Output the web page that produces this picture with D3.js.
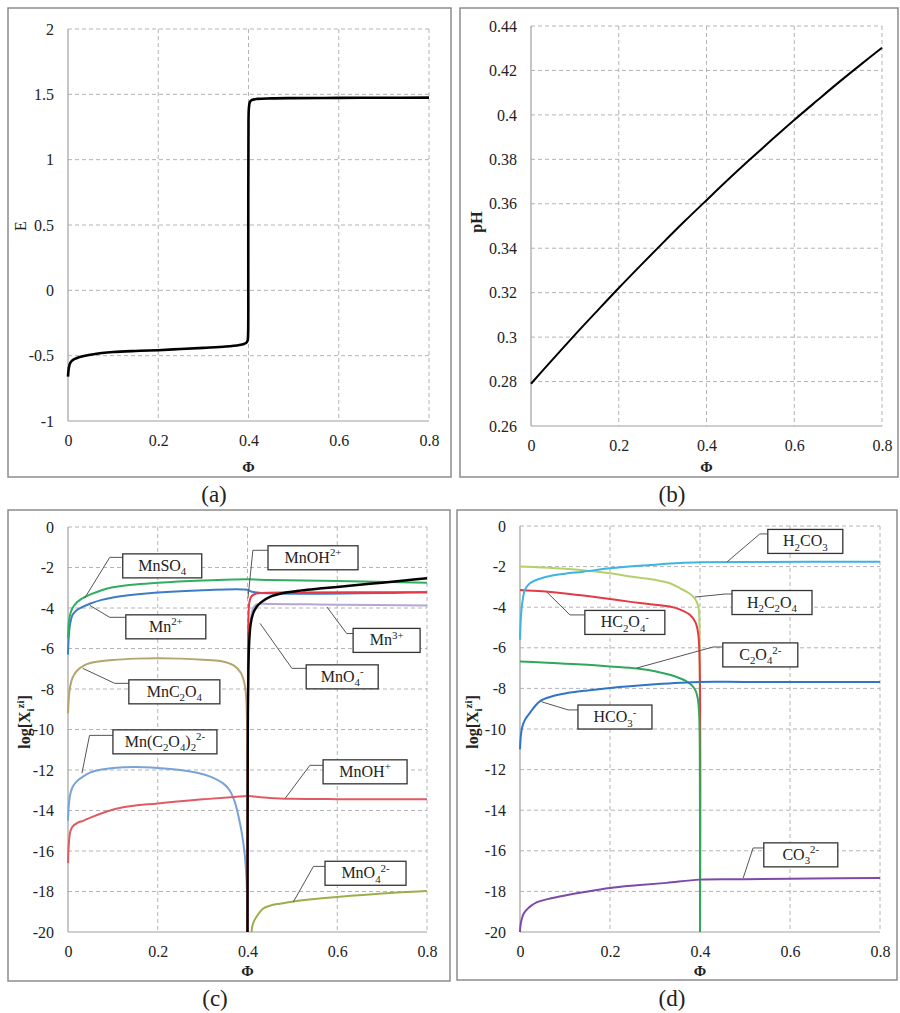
<!DOCTYPE html>
<html>
<head>
<meta charset="utf-8">
<script src="https://d3js.org/d3.v7.min.js"></script>
<style>
  body { margin: 0; background: #fff; }
  svg, svg text { font-family: 'Liberation Serif', 'DejaVu Serif', serif !important; }
  svg text { fill: #222; }
</style>
</head>
<body>
<script>
// ---- Achsen / Ticks ----
const phiTicks = [0, 0.2, 0.4, 0.6, 0.8];
const eTicks   = [-1, -0.5, 0, 0.5, 1, 1.5, 2];
const phTicks  = [0.26, 0.28, 0.3, 0.32, 0.34, 0.36, 0.38, 0.4, 0.42, 0.44];
const logTicks = [-20, -18, -16, -14, -12, -10, -8, -6, -4, -2, 0];

// ---- (a) Potential E gegen Phi ----
const potentialE = [
  [0, -0.66], [0.002, -0.59], [0.005, -0.555], [0.01, -0.535], [0.02, -0.518],
  [0.035, -0.503], [0.05, -0.493], [0.075, -0.48], [0.1, -0.472], [0.15, -0.464],
  [0.2, -0.458], [0.25, -0.449], [0.3, -0.44], [0.35, -0.43], [0.38, -0.418],
  [0.39, -0.41], [0.395, -0.402], [0.398, -0.385], [0.399, -0.35], [0.3995, 0.2],
  [0.4, 1.3], [0.401, 1.40], [0.403, 1.44], [0.407, 1.456], [0.42, 1.465],
  [0.45, 1.469], [0.5, 1.471], [0.6, 1.473], [0.7, 1.474], [0.8, 1.475]
];

// ---- (b) pH gegen Phi ----
const pHcurve = [
  [0, 0.279], [0.05, 0.2901], [0.1, 0.301], [0.15, 0.3116], [0.2, 0.3221],
  [0.25, 0.3323], [0.3, 0.3423], [0.35, 0.3521], [0.4, 0.3616], [0.45, 0.371],
  [0.5, 0.3801], [0.55, 0.389], [0.6, 0.3977], [0.65, 0.4061], [0.7, 0.4144],
  [0.75, 0.4224], [0.8, 0.4302]
];

// ---- (c) Mangan-Spezies log[X] ----
const MnSO4 = [[0, -5.5], [0.002, -4.7], [0.005, -4.3], [0.01, -4.0], [0.02, -3.72], [0.03, -3.55],
  [0.05, -3.33], [0.075, -3.12], [0.1, -2.98], [0.15, -2.84], [0.2, -2.75], [0.3, -2.64],
  [0.4, -2.58], [0.45, -2.62], [0.6, -2.67], [0.8, -2.75]];
const Mn2 = [[0, -6.3], [0.002, -5.3], [0.005, -4.75], [0.01, -4.35], [0.02, -4.1], [0.035, -3.92],
  [0.05, -3.78], [0.075, -3.6], [0.1, -3.48], [0.15, -3.33], [0.2, -3.23], [0.3, -3.12],
  [0.4, -3.1], [0.41, -3.2], [0.8, -3.22]];
const MnC2O4 = [[0, -9.2], [0.002, -8.4], [0.005, -7.85], [0.01, -7.45], [0.02, -7.1], [0.035, -6.85],
  [0.05, -6.72], [0.1, -6.57], [0.15, -6.5], [0.2, -6.48], [0.25, -6.5], [0.3, -6.55],
  [0.34, -6.62], [0.37, -6.85], [0.385, -7.2], [0.393, -7.7], [0.397, -8.4], [0.399, -9.8], [0.4, -20]];
const MnOx2 = [[0, -14.5], [0.002, -13.7], [0.005, -13.2], [0.01, -12.85], [0.02, -12.55], [0.035, -12.3],
  [0.05, -12.12], [0.075, -11.98], [0.1, -11.9], [0.15, -11.85], [0.2, -11.9], [0.25, -12.0],
  [0.29, -12.15], [0.32, -12.35], [0.345, -12.65], [0.36, -13.0], [0.372, -13.6], [0.38, -14.3],
  [0.388, -15.2], [0.394, -16.2], [0.398, -17.5], [0.4, -20]];
const MnOH1 = [[0, -16.6], [0.002, -15.6], [0.005, -15.05], [0.01, -14.8], [0.02, -14.62], [0.035, -14.5],
  [0.05, -14.35], [0.085, -14.06], [0.12, -13.85], [0.2, -13.65], [0.3, -13.45], [0.37, -13.33],
  [0.4, -13.28], [0.41, -13.3], [0.45, -13.38], [0.5, -13.42], [0.6, -13.44], [0.8, -13.45]];
const MnO4_2 = [[0.409, -20], [0.412, -19.6], [0.42, -19.25], [0.435, -18.84], [0.45, -18.7],
  [0.4725, -18.6], [0.51, -18.47], [0.55, -18.37], [0.6, -18.27], [0.7, -18.1], [0.8, -17.98]];
const Mn3 = [[0.4, -20], [0.401, -10], [0.403, -6], [0.407, -4.6], [0.413, -4.0], [0.42, -3.82],
  [0.45, -3.8], [0.6, -3.84], [0.8, -3.88]];
const MnOH2 = [[0.4, -20], [0.4005, -12], [0.401, -7], [0.402, -4.6], [0.404, -3.75], [0.408, -3.45],
  [0.415, -3.32], [0.43, -3.26], [0.5, -3.23], [0.8, -3.22]];
const MnO4 = [[0.4, -20], [0.4005, -12], [0.401, -9], [0.402, -7], [0.404, -5.6], [0.407, -4.8],
  [0.412, -4.3], [0.42, -3.95], [0.43, -3.72], [0.45, -3.45], [0.48, -3.26], [0.52, -3.13],
  [0.56, -3.04], [0.6, -2.96], [0.65, -2.85], [0.7, -2.75], [0.75, -2.64], [0.8, -2.53]];

// ---- (d) Kohlenstoff-Spezies log[X] ----
const H2CO3 = [[0, -5.6], [0.002, -4.5], [0.005, -3.8], [0.011, -3.15], [0.022, -2.82], [0.044, -2.6],
  [0.067, -2.46], [0.1, -2.35], [0.14, -2.25], [0.2, -2.08], [0.29, -1.92], [0.356, -1.82],
  [0.4, -1.79], [0.5, -1.77], [0.8, -1.76]];
const H2C2O4 = [[0, -2.0], [0.05, -2.04], [0.1, -2.1], [0.15, -2.2], [0.2, -2.33], [0.25, -2.5],
  [0.3, -2.65], [0.333, -2.82], [0.356, -3.07], [0.375, -3.3], [0.385, -3.48], [0.393, -3.75],
  [0.397, -4.05], [0.399, -5], [0.4, -20]];
const HC2O4 = [[0, -3.15], [0.05, -3.22], [0.1, -3.32], [0.15, -3.45], [0.2, -3.6], [0.25, -3.75],
  [0.3, -3.88], [0.333, -3.97], [0.356, -4.12], [0.378, -4.38], [0.39, -4.75], [0.396, -5.3],
  [0.399, -6.5], [0.4, -20]];
const C2O4 = [[0, -6.67], [0.05, -6.72], [0.1, -6.78], [0.15, -6.84], [0.2, -6.92], [0.26, -7.02],
  [0.3, -7.15], [0.333, -7.33], [0.355, -7.5], [0.37, -7.65], [0.382, -7.85], [0.39, -8.1],
  [0.395, -8.5], [0.398, -9.2], [0.3995, -11], [0.4, -20]];
const HCO3 = [[0, -11.0], [0.002, -10.3], [0.005, -9.9], [0.011, -9.55], [0.022, -9.2], [0.044, -8.64],
  [0.07, -8.4], [0.1, -8.25], [0.15, -8.1], [0.2, -7.98], [0.3, -7.8], [0.356, -7.72],
  [0.4, -7.68], [0.5, -7.68], [0.8, -7.69]];
const CO3 = [[0, -20], [0.001, -19.7], [0.004, -19.35], [0.008, -19.1], [0.015, -18.9], [0.025, -18.7],
  [0.037, -18.54], [0.067, -18.35], [0.1, -18.2], [0.14, -18.04], [0.2, -17.83], [0.26, -17.7],
  [0.326, -17.58], [0.4, -17.42], [0.5, -17.4], [0.65, -17.37], [0.8, -17.34]];

// ---- Beschriftungen (Text, Box-Mitte, Pfeilspitze, Knick in Datenkoordinaten) ----
const labelsC = [
  { parts: [['MnSO'], ['4', 'sub']], at: [0.21, -1.92], w: 79, tip: [0.037, -3.52], elbow: [0.093, -1.5] },
  { parts: [['Mn'], ['2+', 'sup']], at: [0.218, -4.93], w: 80, tip: [0.0485, -3.87], elbow: [0.093, -4.46] },
  { parts: [['MnC'], ['2', 'sub'], ['O'], ['4', 'sub']], at: [0.237, -8.14], w: 91, tip: [0.033, -6.98], elbow: [0.104, -7.72] },
  { parts: [['Mn(C'], ['2', 'sub'], ['O'], ['4', 'sub'], [')'], ['2', 'sub'], ['2-', 'sup']], at: [0.216, -10.61], w: 104, tip: [0.031, -12.16], elbow: [0.048, -10.29] },
  { parts: [['MnOH'], ['2+', 'sup']], at: [0.546, -1.52], w: 90, tip: [0.401, -3.52], elbow: [0.412, -1.15] },
  { parts: [['Mn'], ['3+', 'sup']], at: [0.71, -5.6], w: 67, tip: [0.577, -3.95], elbow: [0.621, -5.26] },
  { parts: [['MnO'], ['4', 'sub'], ['-', 'sup']], at: [0.611, -7.4], w: 72, tip: [0.428, -4.76], elbow: [0.499, -6.98] },
  { parts: [['MnOH'], ['+', 'sup']], at: [0.662, -12.09], w: 84, tip: [0.484, -13.4], elbow: [0.539, -11.77] },
  { parts: [['MnO'], ['4', 'sub'], ['2-', 'sup']], at: [0.663, -17.1], w: 81, tip: [0.502, -18.52], elbow: [0.547, -16.76] }
];
const labelsD = [
  { parts: [['H'], ['2', 'sub'], ['CO'], ['3', 'sub']], at: [0.634, -0.76], w: 75, tip: [0.46, -1.77], elbow: [0.533, -0.39] },
  { parts: [['H'], ['2', 'sub'], ['C'], ['2', 'sub'], ['O'], ['4', 'sub']], at: [0.56, -3.77], w: 80, tip: [0.389, -3.5], elbow: [0.456, -3.35] },
  { parts: [['C'], ['2', 'sub'], ['O'], ['4', 'sub'], ['2-', 'sup']], at: [0.534, -6.35], w: 75, tip: [0.259, -7.0], elbow: [0.429, -5.96] },
  { parts: [['HC'], ['2', 'sub'], ['O'], ['4', 'sub'], ['-', 'sup']], at: [0.233, -4.75], w: 80, tip: [0.059, -3.24], elbow: [0.111, -4.38] },
  { parts: [['HCO'], ['3', 'sub'], ['-', 'sup']], at: [0.211, -9.41], w: 74, tip: [0.048, -8.66], elbow: [0.107, -9.06] },
  { parts: [['CO'], ['3', 'sub'], ['2-', 'sup']], at: [0.624, -16.2], w: 74, tip: [0.496, -17.34], elbow: [0.518, -15.86] }
];

const SERIF = "'Liberation Serif', 'DejaVu Serif', serif";

const svg = d3.select('body').append('svg')
  .attr('width', 900)
  .attr('height', 1013)
  .style('font-family', SERIF);

// Text mit tief-/hochgestellten Teilen
function richText(sel, parts, size) {
  let shift = 0;
  parts.forEach(([t, kind]) => {
    const target = kind === 'sub' ? size * 0.28 : kind === 'sup' ? -size * 0.4 : 0;
    sel.append('tspan')
      .attr('dy', target - shift)
      .attr('font-size', kind ? size * 0.68 : size)
      .text(t);
    shift = target;
  });
}

let clipId = 0;

function drawPanel(cfg) {
  const [fx0, fy0, fx1, fy1] = cfg.frame;
  svg.append('rect')
    .attr('x', fx0).attr('y', fy0)
    .attr('width', fx1 - fx0).attr('height', fy1 - fy0)
    .attr('fill', '#fff')
    .attr('stroke', '#8c8c8c')
    .attr('stroke-width', 1.5);

  const x = d3.scaleLinear().domain([0, 0.8]).range([cfg.plot.l, cfg.plot.r]);
  const y = d3.scaleLinear().domain(cfg.yDomain).range([cfg.plot.b, cfg.plot.t]);

  const g = svg.append('g');

  // Gitterlinien (gestrichelt)
  g.append('g').selectAll('line')
    .data(phiTicks.slice(1))
    .enter().append('line')
    .attr('x1', d => x(d)).attr('x2', d => x(d))
    .attr('y1', cfg.plot.t).attr('y2', cfg.plot.b)
    .attr('stroke', '#b4b4b4').attr('stroke-width', 1)
    .attr('stroke-dasharray', '4,3');
  g.append('g').selectAll('line')
    .data(cfg.yTicks.slice(1))
    .enter().append('line')
    .attr('x1', cfg.plot.l).attr('x2', cfg.plot.r)
    .attr('y1', d => y(d)).attr('y2', d => y(d))
    .attr('stroke', '#b4b4b4').attr('stroke-width', 1)
    .attr('stroke-dasharray', '4,3');

  // Achsen-Linien links und unten
  g.append('line')
    .attr('x1', cfg.plot.l).attr('x2', cfg.plot.l)
    .attr('y1', cfg.plot.t).attr('y2', cfg.plot.b)
    .attr('stroke', '#a0a0a0').attr('stroke-width', 1.2);
  g.append('line')
    .attr('x1', cfg.plot.l).attr('x2', cfg.plot.r)
    .attr('y1', cfg.plot.b).attr('y2', cfg.plot.b)
    .attr('stroke', '#a0a0a0').attr('stroke-width', 1.2);

  // Tick-Beschriftungen
  const ax = g.append('g')
    .attr('transform', `translate(0,${cfg.plot.b})`)
    .call(d3.axisBottom(x).tickValues(phiTicks).tickSize(0).tickPadding(14).tickFormat(d => String(d)));
  const ay = g.append('g')
    .attr('transform', `translate(${cfg.plot.l},0)`)
    .call(d3.axisLeft(y).tickValues(cfg.yTicks).tickSize(0).tickPadding(14).tickFormat(d => String(d)));
  [ax, ay].forEach(a => {
    a.attr('font-family', null).attr('font-size', null);
    a.select('.domain').remove();
    a.selectAll('text')
      .style('font-family', SERIF)
      .style('font-size', '16px')
      .attr('fill', '#222');
  });

  // Kurven
  const clip = 'clip' + (clipId++);
  svg.append('clipPath').attr('id', clip)
    .append('rect')
    .attr('x', cfg.plot.l - 2).attr('y', cfg.plot.t - 3)
    .attr('width', cfg.plot.r - cfg.plot.l + 4)
    .attr('height', cfg.plot.b - cfg.plot.t + 4);

  const line = d3.line()
    .x(d => x(d[0]))
    .y(d => y(d[1]))
    .curve(d3.curveCatmullRom.alpha(0.5));

  const lines = g.append('g').attr('clip-path', `url(#${clip})`);
  cfg.series.forEach(s => {
    lines.append('path')
      .datum(s.data)
      .attr('fill', 'none')
      .attr('stroke', s.color)
      .attr('stroke-width', s.width || 2)
      .attr('stroke-linejoin', 'round')
      .attr('d', line);
  });

  // Beschriftungskästen mit Führungslinien
  (cfg.labels || []).forEach(lb => {
    const cx = x(lb.at[0]);
    const cy = y(lb.at[1]);
    const left = cx - lb.w / 2;
    const pts = [
      [x(lb.tip[0]), y(lb.tip[1])],
      [x(lb.elbow[0]), y(lb.elbow[1])],
      [left, y(lb.elbow[1])]
    ];
    g.append('path')
      .attr('d', d3.line()(pts))
      .attr('fill', 'none')
      .attr('stroke', '#555')
      .attr('stroke-width', 1);
    g.append('rect')
      .attr('x', left).attr('y', cy - 12)
      .attr('width', lb.w).attr('height', 24)
      .attr('fill', '#fff')
      .attr('stroke', '#333')
      .attr('stroke-width', 1.3);
    const t = g.append('text')
      .attr('x', cx).attr('y', cy + 5)
      .attr('text-anchor', 'middle');
    richText(t, lb.parts, 16);
  });

  // Achsentitel
  g.append('text')
    .attr('x', (cfg.plot.l + cfg.plot.r) / 2)
    .attr('y', cfg.phiY)
    .attr('text-anchor', 'middle')
    .attr('font-size', 15)
    .attr('font-weight', 'bold')
    .text('Φ');

  const yt = g.append('text')
    .attr('transform', `translate(${cfg.yTitle.x},${cfg.yTitle.y}) rotate(-90)`)
    .attr('text-anchor', 'middle')
    .attr('font-size', 16)
    .attr('font-weight', cfg.yTitle.bold ? 'bold' : 'normal');
  richText(yt, cfg.yTitle.parts, 16);

  // Teilbild-Bezeichnung
  svg.append('text')
    .attr('x', cfg.caption.x)
    .attr('y', cfg.caption.y)
    .attr('text-anchor', 'middle')
    .attr('font-size', 23)
    .text(cfg.caption.text);
}

const logTitle = [['log[X'], ['i', 'sub'], ['zi', 'sup'], [']']];

drawPanel({
  frame: [8, 8, 451, 477],
  plot: { l: 68, t: 29, r: 429, b: 421 },
  yDomain: [-1, 2], yTicks: eTicks,
  phiY: 472,
  yTitle: { x: 26, y: 226, parts: [['E']], bold: false },
  caption: { x: 214, y: 502, text: '(a)' },
  series: [{ data: potentialE, color: '#000', width: 2.6 }]
});

drawPanel({
  frame: [460, 8, 898, 477],
  plot: { l: 531, t: 26, r: 882, b: 426 },
  yDomain: [0.26, 0.44], yTicks: phTicks,
  phiY: 472,
  yTitle: { x: 482, y: 222, parts: [['pH']], bold: true },
  caption: { x: 672, y: 502, text: '(b)' },
  series: [{ data: pHcurve, color: '#000', width: 2 }]
});

drawPanel({
  frame: [8, 510, 450, 981],
  plot: { l: 68, t: 527, r: 427, b: 932 },
  yDomain: [-20, 0], yTicks: logTicks,
  phiY: 976,
  yTitle: { x: 30, y: 722, parts: logTitle, bold: true },
  caption: { x: 215, y: 1006, text: '(c)' },
  series: [
    { data: MnC2O4, color: '#b3a56b' },
    { data: MnOx2, color: '#79a3d8' },
    { data: MnOH1, color: '#e05a64' },
    { data: MnO4_2, color: '#9bb048' },
    { data: Mn2, color: '#3d7cc9' },
    { data: MnSO4, color: '#2fae5f' },
    { data: Mn3, color: '#b4a7d6' },
    { data: MnOH2, color: '#e63946' },
    { data: MnO4, color: '#000', width: 2.4 }
  ],
  labels: labelsC
});

drawPanel({
  frame: [457, 510, 897, 980],
  plot: { l: 520, t: 526, r: 880, b: 932 },
  yDomain: [-20, 0], yTicks: logTicks,
  phiY: 976,
  yTitle: { x: 478, y: 722, parts: logTitle, bold: true },
  caption: { x: 672, y: 1006, text: '(d)' },
  series: [
    { data: H2C2O4, color: '#b5cf6b' },
    { data: HC2O4, color: '#e63946' },
    { data: C2O4, color: '#2ea85a' },
    { data: H2CO3, color: '#3fb3e3' },
    { data: HCO3, color: '#2f75c6' },
    { data: CO3, color: '#7d4aa8' }
  ],
  labels: labelsD
});
</script>
</body>
</html>
